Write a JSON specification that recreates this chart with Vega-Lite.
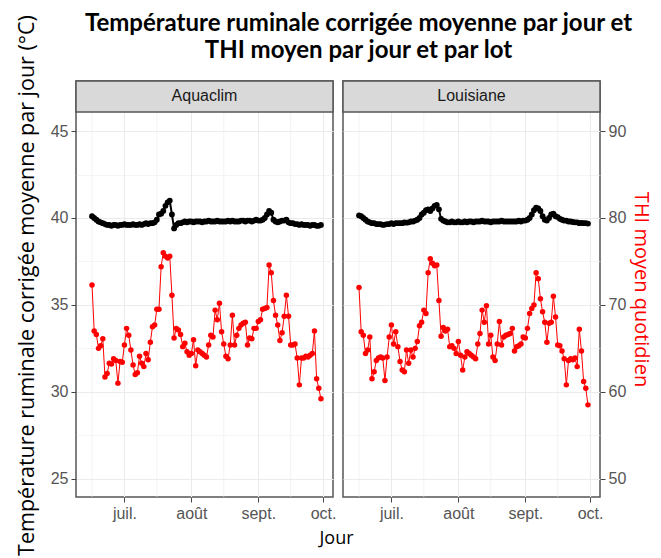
{
  "$schema": "https://vega.github.io/schema/vega-lite/v6.json",
  "background": "white",
  "padding": {"left": 15, "top": 11, "right": 0, "bottom": 0},
  "title": {
    "text": ["Température ruminale corrigée moyenne par jour et", "THI moyen par jour et par lot"],
    "font": "Lato", "fontWeight": "bold", "fontSize": 24, "lineHeight": 27,
    "color": "black", "anchor": "middle", "dx": 25, "offset": -49
  },
  "datasets": {
    "grilleMineure": [{"jour": "2021-06-16"}, {"jour": "2021-07-16"}, {"jour": "2021-08-16"}, {"jour": "2021-09-16"}]
  },
  "data": {"values": [
{"lot":"Aquaclim","jour":"2021-06-16","temp":40.1,"thi":72.3},
{"lot":"Aquaclim","jour":"2021-06-17","temp":40.0,"thi":67.0},
{"lot":"Aquaclim","jour":"2021-06-18","temp":39.9,"thi":66.6},
{"lot":"Aquaclim","jour":"2021-06-19","temp":39.8,"thi":65.0},
{"lot":"Aquaclim","jour":"2021-06-20","temp":39.75,"thi":65.3},
{"lot":"Aquaclim","jour":"2021-06-21","temp":39.7,"thi":66.1},
{"lot":"Aquaclim","jour":"2021-06-22","temp":39.65,"thi":61.7},
{"lot":"Aquaclim","jour":"2021-06-23","temp":39.6,"thi":62.1},
{"lot":"Aquaclim","jour":"2021-06-24","temp":39.6,"thi":63.3},
{"lot":"Aquaclim","jour":"2021-06-25","temp":39.55,"thi":63.2},
{"lot":"Aquaclim","jour":"2021-06-26","temp":39.6,"thi":63.8},
{"lot":"Aquaclim","jour":"2021-06-27","temp":39.6,"thi":63.6},
{"lot":"Aquaclim","jour":"2021-06-28","temp":39.55,"thi":61.0},
{"lot":"Aquaclim","jour":"2021-06-29","temp":39.6,"thi":63.5},
{"lot":"Aquaclim","jour":"2021-06-30","temp":39.6,"thi":63.4},
{"lot":"Aquaclim","jour":"2021-07-01","temp":39.65,"thi":65.4},
{"lot":"Aquaclim","jour":"2021-07-02","temp":39.6,"thi":67.3},
{"lot":"Aquaclim","jour":"2021-07-03","temp":39.6,"thi":66.5},
{"lot":"Aquaclim","jour":"2021-07-04","temp":39.6,"thi":64.8},
{"lot":"Aquaclim","jour":"2021-07-05","temp":39.65,"thi":63.1},
{"lot":"Aquaclim","jour":"2021-07-06","temp":39.6,"thi":62.0},
{"lot":"Aquaclim","jour":"2021-07-07","temp":39.6,"thi":62.2},
{"lot":"Aquaclim","jour":"2021-07-08","temp":39.65,"thi":64.1},
{"lot":"Aquaclim","jour":"2021-07-09","temp":39.6,"thi":63.3},
{"lot":"Aquaclim","jour":"2021-07-10","temp":39.65,"thi":62.9},
{"lot":"Aquaclim","jour":"2021-07-11","temp":39.7,"thi":64.4},
{"lot":"Aquaclim","jour":"2021-07-12","temp":39.65,"thi":63.7},
{"lot":"Aquaclim","jour":"2021-07-13","temp":39.7,"thi":65.7},
{"lot":"Aquaclim","jour":"2021-07-14","temp":39.7,"thi":67.5},
{"lot":"Aquaclim","jour":"2021-07-15","temp":39.75,"thi":67.7},
{"lot":"Aquaclim","jour":"2021-07-16","temp":39.9,"thi":69.5},
{"lot":"Aquaclim","jour":"2021-07-17","temp":40.2,"thi":69.5},
{"lot":"Aquaclim","jour":"2021-07-18","temp":40.25,"thi":74.4},
{"lot":"Aquaclim","jour":"2021-07-19","temp":40.4,"thi":76.0},
{"lot":"Aquaclim","jour":"2021-07-20","temp":40.7,"thi":75.6},
{"lot":"Aquaclim","jour":"2021-07-21","temp":40.9,"thi":75.4},
{"lot":"Aquaclim","jour":"2021-07-22","temp":41.0,"thi":75.6},
{"lot":"Aquaclim","jour":"2021-07-23","temp":40.2,"thi":71.1},
{"lot":"Aquaclim","jour":"2021-07-24","temp":39.4,"thi":66.2},
{"lot":"Aquaclim","jour":"2021-07-25","temp":39.6,"thi":67.3},
{"lot":"Aquaclim","jour":"2021-07-26","temp":39.7,"thi":67.1},
{"lot":"Aquaclim","jour":"2021-07-27","temp":39.7,"thi":66.6},
{"lot":"Aquaclim","jour":"2021-07-28","temp":39.75,"thi":65.2},
{"lot":"Aquaclim","jour":"2021-07-29","temp":39.8,"thi":65.6},
{"lot":"Aquaclim","jour":"2021-07-30","temp":39.75,"thi":64.6},
{"lot":"Aquaclim","jour":"2021-07-31","temp":39.8,"thi":64.2},
{"lot":"Aquaclim","jour":"2021-08-01","temp":39.8,"thi":64.4},
{"lot":"Aquaclim","jour":"2021-08-02","temp":39.75,"thi":66.0},
{"lot":"Aquaclim","jour":"2021-08-03","temp":39.8,"thi":63.0},
{"lot":"Aquaclim","jour":"2021-08-04","temp":39.8,"thi":64.8},
{"lot":"Aquaclim","jour":"2021-08-05","temp":39.8,"thi":64.6},
{"lot":"Aquaclim","jour":"2021-08-06","temp":39.75,"thi":64.4},
{"lot":"Aquaclim","jour":"2021-08-07","temp":39.8,"thi":64.2},
{"lot":"Aquaclim","jour":"2021-08-08","temp":39.8,"thi":64.0},
{"lot":"Aquaclim","jour":"2021-08-09","temp":39.85,"thi":65.4},
{"lot":"Aquaclim","jour":"2021-08-10","temp":39.8,"thi":66.5},
{"lot":"Aquaclim","jour":"2021-08-11","temp":39.8,"thi":66.3},
{"lot":"Aquaclim","jour":"2021-08-12","temp":39.8,"thi":69.4},
{"lot":"Aquaclim","jour":"2021-08-13","temp":39.85,"thi":68.3},
{"lot":"Aquaclim","jour":"2021-08-14","temp":39.8,"thi":70.2},
{"lot":"Aquaclim","jour":"2021-08-15","temp":39.8,"thi":66.9},
{"lot":"Aquaclim","jour":"2021-08-16","temp":39.8,"thi":65.5},
{"lot":"Aquaclim","jour":"2021-08-17","temp":39.8,"thi":64.1},
{"lot":"Aquaclim","jour":"2021-08-18","temp":39.85,"thi":63.8},
{"lot":"Aquaclim","jour":"2021-08-19","temp":39.8,"thi":65.4},
{"lot":"Aquaclim","jour":"2021-08-20","temp":39.85,"thi":68.8},
{"lot":"Aquaclim","jour":"2021-08-21","temp":39.8,"thi":65.4},
{"lot":"Aquaclim","jour":"2021-08-22","temp":39.8,"thi":66.5},
{"lot":"Aquaclim","jour":"2021-08-23","temp":39.8,"thi":67.3},
{"lot":"Aquaclim","jour":"2021-08-24","temp":39.85,"thi":67.7},
{"lot":"Aquaclim","jour":"2021-08-25","temp":39.85,"thi":67.9},
{"lot":"Aquaclim","jour":"2021-08-26","temp":39.8,"thi":68.0},
{"lot":"Aquaclim","jour":"2021-08-27","temp":39.85,"thi":65.4},
{"lot":"Aquaclim","jour":"2021-08-28","temp":39.85,"thi":66.2},
{"lot":"Aquaclim","jour":"2021-08-29","temp":39.8,"thi":66.1},
{"lot":"Aquaclim","jour":"2021-08-30","temp":39.85,"thi":67.3},
{"lot":"Aquaclim","jour":"2021-08-31","temp":39.9,"thi":67.3},
{"lot":"Aquaclim","jour":"2021-09-01","temp":39.85,"thi":68.1},
{"lot":"Aquaclim","jour":"2021-09-02","temp":39.85,"thi":68.3},
{"lot":"Aquaclim","jour":"2021-09-03","temp":39.9,"thi":69.5},
{"lot":"Aquaclim","jour":"2021-09-04","temp":40.0,"thi":69.6},
{"lot":"Aquaclim","jour":"2021-09-05","temp":40.2,"thi":69.7},
{"lot":"Aquaclim","jour":"2021-09-06","temp":40.4,"thi":74.6},
{"lot":"Aquaclim","jour":"2021-09-07","temp":40.3,"thi":73.7},
{"lot":"Aquaclim","jour":"2021-09-08","temp":39.9,"thi":70.5},
{"lot":"Aquaclim","jour":"2021-09-09","temp":39.8,"thi":68.8},
{"lot":"Aquaclim","jour":"2021-09-10","temp":39.75,"thi":67.7},
{"lot":"Aquaclim","jour":"2021-09-11","temp":39.8,"thi":65.9},
{"lot":"Aquaclim","jour":"2021-09-12","temp":39.85,"thi":66.8},
{"lot":"Aquaclim","jour":"2021-09-13","temp":39.85,"thi":68.7},
{"lot":"Aquaclim","jour":"2021-09-14","temp":39.9,"thi":71.1},
{"lot":"Aquaclim","jour":"2021-09-15","temp":39.75,"thi":68.7},
{"lot":"Aquaclim","jour":"2021-09-16","temp":39.7,"thi":65.4},
{"lot":"Aquaclim","jour":"2021-09-17","temp":39.7,"thi":65.4},
{"lot":"Aquaclim","jour":"2021-09-18","temp":39.65,"thi":65.5},
{"lot":"Aquaclim","jour":"2021-09-19","temp":39.65,"thi":63.9},
{"lot":"Aquaclim","jour":"2021-09-20","temp":39.6,"thi":60.8},
{"lot":"Aquaclim","jour":"2021-09-21","temp":39.65,"thi":63.9},
{"lot":"Aquaclim","jour":"2021-09-22","temp":39.6,"thi":63.9},
{"lot":"Aquaclim","jour":"2021-09-23","temp":39.6,"thi":64.1},
{"lot":"Aquaclim","jour":"2021-09-24","temp":39.6,"thi":64.0},
{"lot":"Aquaclim","jour":"2021-09-25","temp":39.55,"thi":64.2},
{"lot":"Aquaclim","jour":"2021-09-26","temp":39.6,"thi":64.4},
{"lot":"Aquaclim","jour":"2021-09-27","temp":39.6,"thi":67.0},
{"lot":"Aquaclim","jour":"2021-09-28","temp":39.55,"thi":61.5},
{"lot":"Aquaclim","jour":"2021-09-29","temp":39.55,"thi":60.4},
{"lot":"Aquaclim","jour":"2021-09-30","temp":39.6,"thi":59.2},
{"lot":"Louisiane","jour":"2021-06-16","temp":40.15,"thi":72.0},
{"lot":"Louisiane","jour":"2021-06-17","temp":40.1,"thi":66.9},
{"lot":"Louisiane","jour":"2021-06-18","temp":40.0,"thi":66.5},
{"lot":"Louisiane","jour":"2021-06-19","temp":39.9,"thi":64.4},
{"lot":"Louisiane","jour":"2021-06-20","temp":39.8,"thi":64.8},
{"lot":"Louisiane","jour":"2021-06-21","temp":39.75,"thi":66.3},
{"lot":"Louisiane","jour":"2021-06-22","temp":39.7,"thi":61.5},
{"lot":"Louisiane","jour":"2021-06-23","temp":39.7,"thi":62.3},
{"lot":"Louisiane","jour":"2021-06-24","temp":39.65,"thi":63.6},
{"lot":"Louisiane","jour":"2021-06-25","temp":39.65,"thi":63.9},
{"lot":"Louisiane","jour":"2021-06-26","temp":39.65,"thi":64.0},
{"lot":"Louisiane","jour":"2021-06-27","temp":39.6,"thi":63.9},
{"lot":"Louisiane","jour":"2021-06-28","temp":39.62,"thi":61.3},
{"lot":"Louisiane","jour":"2021-06-29","temp":39.65,"thi":64.0},
{"lot":"Louisiane","jour":"2021-06-30","temp":39.65,"thi":66.3},
{"lot":"Louisiane","jour":"2021-07-01","temp":39.7,"thi":67.7},
{"lot":"Louisiane","jour":"2021-07-02","temp":39.65,"thi":65.5},
{"lot":"Louisiane","jour":"2021-07-03","temp":39.7,"thi":66.9},
{"lot":"Louisiane","jour":"2021-07-04","temp":39.7,"thi":65.2},
{"lot":"Louisiane","jour":"2021-07-05","temp":39.7,"thi":63.5},
{"lot":"Louisiane","jour":"2021-07-06","temp":39.7,"thi":62.5},
{"lot":"Louisiane","jour":"2021-07-07","temp":39.75,"thi":62.3},
{"lot":"Louisiane","jour":"2021-07-08","temp":39.73,"thi":64.8},
{"lot":"Louisiane","jour":"2021-07-09","temp":39.75,"thi":63.3},
{"lot":"Louisiane","jour":"2021-07-10","temp":39.8,"thi":64.8},
{"lot":"Louisiane","jour":"2021-07-11","temp":39.8,"thi":64.0},
{"lot":"Louisiane","jour":"2021-07-12","temp":39.85,"thi":65.0},
{"lot":"Louisiane","jour":"2021-07-13","temp":39.9,"thi":65.8},
{"lot":"Louisiane","jour":"2021-07-14","temp":40.0,"thi":67.6},
{"lot":"Louisiane","jour":"2021-07-15","temp":40.2,"thi":68.0},
{"lot":"Louisiane","jour":"2021-07-16","temp":40.3,"thi":69.4},
{"lot":"Louisiane","jour":"2021-07-17","temp":40.45,"thi":69.0},
{"lot":"Louisiane","jour":"2021-07-18","temp":40.5,"thi":73.7},
{"lot":"Louisiane","jour":"2021-07-19","temp":40.4,"thi":75.3},
{"lot":"Louisiane","jour":"2021-07-20","temp":40.55,"thi":74.8},
{"lot":"Louisiane","jour":"2021-07-21","temp":40.7,"thi":74.5},
{"lot":"Louisiane","jour":"2021-07-22","temp":40.75,"thi":74.6},
{"lot":"Louisiane","jour":"2021-07-23","temp":40.5,"thi":70.5},
{"lot":"Louisiane","jour":"2021-07-24","temp":39.95,"thi":66.4},
{"lot":"Louisiane","jour":"2021-07-25","temp":39.85,"thi":67.4},
{"lot":"Louisiane","jour":"2021-07-26","temp":39.8,"thi":67.0},
{"lot":"Louisiane","jour":"2021-07-27","temp":39.75,"thi":67.2},
{"lot":"Louisiane","jour":"2021-07-28","temp":39.75,"thi":65.2},
{"lot":"Louisiane","jour":"2021-07-29","temp":39.8,"thi":65.3},
{"lot":"Louisiane","jour":"2021-07-30","temp":39.75,"thi":65.0},
{"lot":"Louisiane","jour":"2021-07-31","temp":39.75,"thi":64.4},
{"lot":"Louisiane","jour":"2021-08-01","temp":39.8,"thi":65.8},
{"lot":"Louisiane","jour":"2021-08-02","temp":39.75,"thi":64.2},
{"lot":"Louisiane","jour":"2021-08-03","temp":39.75,"thi":62.5},
{"lot":"Louisiane","jour":"2021-08-04","temp":39.8,"thi":64.0},
{"lot":"Louisiane","jour":"2021-08-05","temp":39.75,"thi":64.6},
{"lot":"Louisiane","jour":"2021-08-06","temp":39.8,"thi":64.4},
{"lot":"Louisiane","jour":"2021-08-07","temp":39.8,"thi":64.2},
{"lot":"Louisiane","jour":"2021-08-08","temp":39.75,"thi":64.0},
{"lot":"Louisiane","jour":"2021-08-09","temp":39.8,"thi":63.8},
{"lot":"Louisiane","jour":"2021-08-10","temp":39.8,"thi":65.5},
{"lot":"Louisiane","jour":"2021-08-11","temp":39.8,"thi":66.7},
{"lot":"Louisiane","jour":"2021-08-12","temp":39.85,"thi":69.4},
{"lot":"Louisiane","jour":"2021-08-13","temp":39.8,"thi":68.0},
{"lot":"Louisiane","jour":"2021-08-14","temp":39.8,"thi":69.9},
{"lot":"Louisiane","jour":"2021-08-15","temp":39.8,"thi":65.5},
{"lot":"Louisiane","jour":"2021-08-16","temp":39.75,"thi":66.5},
{"lot":"Louisiane","jour":"2021-08-17","temp":39.8,"thi":64.0},
{"lot":"Louisiane","jour":"2021-08-18","temp":39.8,"thi":63.6},
{"lot":"Louisiane","jour":"2021-08-19","temp":39.8,"thi":65.5},
{"lot":"Louisiane","jour":"2021-08-20","temp":39.8,"thi":68.1},
{"lot":"Louisiane","jour":"2021-08-21","temp":39.85,"thi":65.4},
{"lot":"Louisiane","jour":"2021-08-22","temp":39.8,"thi":66.3},
{"lot":"Louisiane","jour":"2021-08-23","temp":39.8,"thi":66.5},
{"lot":"Louisiane","jour":"2021-08-24","temp":39.8,"thi":66.6},
{"lot":"Louisiane","jour":"2021-08-25","temp":39.8,"thi":66.7},
{"lot":"Louisiane","jour":"2021-08-26","temp":39.8,"thi":67.3},
{"lot":"Louisiane","jour":"2021-08-27","temp":39.8,"thi":64.7},
{"lot":"Louisiane","jour":"2021-08-28","temp":39.8,"thi":65.2},
{"lot":"Louisiane","jour":"2021-08-29","temp":39.85,"thi":65.3},
{"lot":"Louisiane","jour":"2021-08-30","temp":39.8,"thi":65.5},
{"lot":"Louisiane","jour":"2021-08-31","temp":39.85,"thi":66.3},
{"lot":"Louisiane","jour":"2021-09-01","temp":39.85,"thi":66.2},
{"lot":"Louisiane","jour":"2021-09-02","temp":39.9,"thi":67.3},
{"lot":"Louisiane","jour":"2021-09-03","temp":40.0,"thi":69.0},
{"lot":"Louisiane","jour":"2021-09-04","temp":40.2,"thi":69.6},
{"lot":"Louisiane","jour":"2021-09-05","temp":40.45,"thi":70.0},
{"lot":"Louisiane","jour":"2021-09-06","temp":40.6,"thi":73.7},
{"lot":"Louisiane","jour":"2021-09-07","temp":40.55,"thi":73.0},
{"lot":"Louisiane","jour":"2021-09-08","temp":40.4,"thi":70.7},
{"lot":"Louisiane","jour":"2021-09-09","temp":40.1,"thi":69.2},
{"lot":"Louisiane","jour":"2021-09-10","temp":39.9,"thi":68.0},
{"lot":"Louisiane","jour":"2021-09-11","temp":39.85,"thi":65.7},
{"lot":"Louisiane","jour":"2021-09-12","temp":40.0,"thi":67.9},
{"lot":"Louisiane","jour":"2021-09-13","temp":40.2,"thi":68.0},
{"lot":"Louisiane","jour":"2021-09-14","temp":40.25,"thi":71.0},
{"lot":"Louisiane","jour":"2021-09-15","temp":40.1,"thi":68.6},
{"lot":"Louisiane","jour":"2021-09-16","temp":40.05,"thi":65.4},
{"lot":"Louisiane","jour":"2021-09-17","temp":39.95,"thi":65.3},
{"lot":"Louisiane","jour":"2021-09-18","temp":39.9,"thi":64.7},
{"lot":"Louisiane","jour":"2021-09-19","temp":39.85,"thi":63.8},
{"lot":"Louisiane","jour":"2021-09-20","temp":39.85,"thi":60.8},
{"lot":"Louisiane","jour":"2021-09-21","temp":39.8,"thi":63.6},
{"lot":"Louisiane","jour":"2021-09-22","temp":39.8,"thi":63.8},
{"lot":"Louisiane","jour":"2021-09-23","temp":39.77,"thi":63.7},
{"lot":"Louisiane","jour":"2021-09-24","temp":39.75,"thi":63.9},
{"lot":"Louisiane","jour":"2021-09-25","temp":39.75,"thi":62.9},
{"lot":"Louisiane","jour":"2021-09-26","temp":39.7,"thi":67.2},
{"lot":"Louisiane","jour":"2021-09-27","temp":39.72,"thi":64.7},
{"lot":"Louisiane","jour":"2021-09-28","temp":39.7,"thi":61.2},
{"lot":"Louisiane","jour":"2021-09-29","temp":39.7,"thi":60.4},
{"lot":"Louisiane","jour":"2021-09-30","temp":39.68,"thi":58.5}
  ]},
  "spacing": 10,
  "bounds": "flush",
  "hconcat": [
    {
      "width": 257, "height": 416,
      "resolve": {"scale": {"y": "independent"}},
      "layer": [
        {
          "data": {"name": "grilleMineure"},
          "mark": {"type": "rule", "color": "#ebebeb", "strokeWidth": 0.6},
          "encoding": {"x": {"field": "jour", "type": "temporal"}}
        },
        {
          "transform": [{"filter": "datum.lot === 'Aquaclim'"}],
          "mark": {"type": "line", "color": "black", "strokeWidth": 2, "point": {"filled": true, "size": 34, "color": "black", "opacity": 1}},
          "encoding": {
            "x": {"field": "jour", "type": "temporal",
              "scale": {"type": "utc", "domain": [{"year": 2021, "month": 6, "date": 8, "hours": 14, "utc": true}, {"year": 2021, "month": 10, "date": 5, "hours": 14, "utc": true}]},
              "axis": {
                "values": [{"year": 2021, "month": 7, "date": 1, "utc": true}, {"year": 2021, "month": 8, "date": 1, "utc": true}, {"year": 2021, "month": 9, "date": 1, "utc": true}, {"year": 2021, "month": 10, "date": 1, "utc": true}],
                "format": "%m",
                "labelExpr": "['', 'janv.','févr.','mars','avr.','mai','juin','juil.','août','sept.','oct.','nov.','déc.'][+datum.label]",
                "gridWidth": 1.1,
                "title": "Jour", "titleX": 260, "titlePadding": 8
              }},
            "y": {"field": "temp", "type": "quantitative",
              "scale": {"domain": [23.95, 47.88], "nice": false, "zero": false},
              "axis": {
                "values": [25, 27.5, 30, 32.5, 35, 37.5, 40, 42.5, 45],
                "labelExpr": "datum.value % 5 === 0 ? datum.label : ''",
                "tickOpacity": {"condition": {"test": "datum.value % 5 === 0", "value": 1}, "value": 0},
                "gridWidth": {"condition": {"test": "datum.value % 5 === 0", "value": 1.1}, "value": 0.55},
                "title": "Température ruminale corrigée moyenne par jour (°C)",
                "titleY": 204, "titlePadding": 12, "titleFontSize": 21.5
              }}
          }
        },
        {
          "transform": [{"filter": "datum.lot === 'Aquaclim'"}],
          "mark": {"type": "line", "color": "#ff0000", "strokeWidth": 1, "point": {"filled": true, "size": 30, "color": "#ff0000", "opacity": 1}},
          "encoding": {
            "x": {"field": "jour", "type": "temporal"},
            "y": {"field": "thi", "type": "quantitative",
              "scale": {"domain": [47.9, 95.76], "nice": false, "zero": false},
              "axis": null}
          }
        },
        {
          "data": {"values": [{"lot": "Aquaclim"}]},
          "layer": [
            {
              "mark": {"type": "rect", "fill": "#d9d9d9", "stroke": "#555555", "strokeWidth": 1.5},
              "encoding": {
                "x": {"datum": {"year": 2021, "month": 6, "date": 8, "hours": 14, "utc": true}, "type": "temporal"},
                "x2": {"datum": {"year": 2021, "month": 10, "date": 5, "hours": 14, "utc": true}},
                "y": {"datum": 46.1, "type": "quantitative", "scale": {"domain": [23.95, 47.88], "nice": false, "zero": false}, "axis": null},
                "y2": {"datum": 47.88}
              }
            },
            {
              "mark": {"type": "text", "font": "Liberation Sans", "fontSize": 16, "color": "#1a1a1a", "baseline": "middle"},
              "encoding": {
                "text": {"field": "lot"},
                "y": {"datum": 46.99, "type": "quantitative"}
              }
            }
          ]
        }
      ]
    },
    {
      "width": 257, "height": 416,
      "resolve": {"scale": {"y": "independent"}},
      "layer": [
        {
          "data": {"name": "grilleMineure"},
          "mark": {"type": "rule", "color": "#ebebeb", "strokeWidth": 0.6},
          "encoding": {"x": {"field": "jour", "type": "temporal"}}
        },
        {
          "transform": [{"filter": "datum.lot === 'Louisiane'"}],
          "mark": {"type": "line", "color": "black", "strokeWidth": 2, "point": {"filled": true, "size": 34, "color": "black", "opacity": 1}},
          "encoding": {
            "x": {"field": "jour", "type": "temporal",
              "scale": {"type": "utc", "domain": [{"year": 2021, "month": 6, "date": 8, "hours": 14, "utc": true}, {"year": 2021, "month": 10, "date": 5, "hours": 14, "utc": true}]},
              "axis": {
                "values": [{"year": 2021, "month": 7, "date": 1, "utc": true}, {"year": 2021, "month": 8, "date": 1, "utc": true}, {"year": 2021, "month": 9, "date": 1, "utc": true}, {"year": 2021, "month": 10, "date": 1, "utc": true}],
                "format": "%m",
                "labelExpr": "['', 'janv.','févr.','mars','avr.','mai','juin','juil.','août','sept.','oct.','nov.','déc.'][+datum.label]",
                "gridWidth": 1.1,
                "title": null
              }},
            "y": {"field": "temp", "type": "quantitative",
              "scale": {"domain": [23.95, 47.88], "nice": false, "zero": false},
              "axis": {
                "values": [25, 27.5, 30, 32.5, 35, 37.5, 40, 42.5, 45],
                "labels": false, "ticks": false, "title": null,
                "gridWidth": {"condition": {"test": "datum.value % 5 === 0", "value": 1.1}, "value": 0.55}
              }}
          }
        },
        {
          "transform": [{"filter": "datum.lot === 'Louisiane'"}],
          "mark": {"type": "line", "color": "#ff0000", "strokeWidth": 1, "point": {"filled": true, "size": 30, "color": "#ff0000", "opacity": 1}},
          "encoding": {
            "x": {"field": "jour", "type": "temporal"},
            "y": {"field": "thi", "type": "quantitative",
              "scale": {"domain": [47.9, 95.76], "nice": false, "zero": false},
              "axis": {"orient": "right", "values": [50, 60, 70, 80, 90], "grid": false,
                "title": "THI moyen quotidien", "titleColor": "#ff0000", "titleY": 208, "titlePadding": 5, "titleFontSize": 20}}
          }
        },
        {
          "data": {"values": [{"lot": "Louisiane"}]},
          "layer": [
            {
              "mark": {"type": "rect", "fill": "#d9d9d9", "stroke": "#555555", "strokeWidth": 1.5},
              "encoding": {
                "x": {"datum": {"year": 2021, "month": 6, "date": 8, "hours": 14, "utc": true}, "type": "temporal"},
                "x2": {"datum": {"year": 2021, "month": 10, "date": 5, "hours": 14, "utc": true}},
                "y": {"datum": 46.1, "type": "quantitative", "scale": {"domain": [23.95, 47.88], "nice": false, "zero": false}, "axis": null},
                "y2": {"datum": 47.88}
              }
            },
            {
              "mark": {"type": "text", "font": "Liberation Sans", "fontSize": 16, "color": "#1a1a1a", "baseline": "middle"},
              "encoding": {
                "text": {"field": "lot"},
                "y": {"datum": 46.99, "type": "quantitative"}
              }
            }
          ]
        }
      ]
    }
  ],
  "config": {
    "view": {"stroke": "#555555", "strokeWidth": 1.5},
    "axis": {
      "domain": false,
      "labelFont": "Liberation Sans", "labelFontSize": 16, "labelColor": "#555555", "labelPadding": 3,
      "labelFlush": false, "labelOverlap": false,
      "tickColor": "#444444", "tickSize": 5, "tickWidth": 1,
      "gridColor": "#ebebeb",
      "titleFont": "Open Sans", "titleFontSize": 21, "titleFontWeight": "normal", "titleColor": "black"
    },
    "axisX": {"titleFontSize": 18}
  }
}
